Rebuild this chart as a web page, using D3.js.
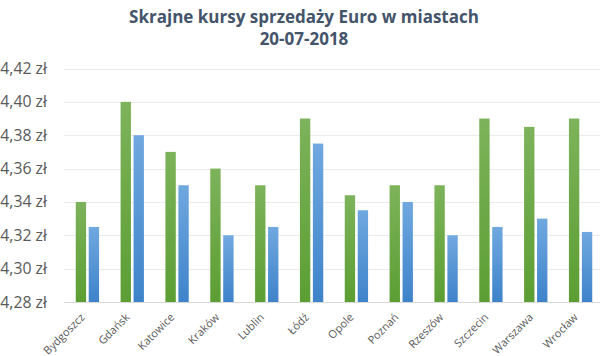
<!DOCTYPE html>
<html><head><meta charset="utf-8">
<script src="https://cdn.jsdelivr.net/npm/d3@7"></script>
<style>body{margin:0;background:#fff;overflow:hidden}svg{display:block}</style>
</head><body><svg id="c" width="600" height="356"></svg>
<script>
const cities = ["Bydgoszcz","Gdańsk","Katowice","Kraków","Lublin","Łódź","Opole","Poznań","Rzeszów","Szczecin","Warszawa","Wrocław"];
const maxRate = [4.34,4.40,4.37,4.36,4.35,4.39,4.344,4.35,4.35,4.39,4.385,4.39];
const minRate = [4.325,4.38,4.35,4.32,4.325,4.375,4.335,4.34,4.32,4.325,4.33,4.322];
const yTicks = [4.28,4.30,4.32,4.34,4.36,4.38,4.40,4.42];
const titleLines = ["Skrajne kursy sprzedaży Euro w miastach","20-07-2018"];

const svg = d3.select("#c");
const defs = svg.append("defs");
function grad(id,top,bot){const g=defs.append("linearGradient").attr("id",id).attr("x1",0).attr("y1",0).attr("x2",0).attr("y2",1);
 g.append("stop").attr("offset","0%").attr("stop-color",top);g.append("stop").attr("offset","100%").attr("stop-color",bot);}
grad("gG","#7db35b","#5c9e33");
grad("gB","#70a8df","#3e83ca");

const x = d3.scaleBand().domain(cities).range([65,603]);
const y = d3.scaleLinear().domain([4.28,4.42]).range([302,68.5]);
const xs = d3.scaleBand().domain(["max","min"]).range([x.bandwidth()*0.24, x.bandwidth()*0.76]).paddingInner(0.2);

const fmt = v => d3.format(".2f")(v).replace(".",",")+" zł";

svg.append("g").selectAll("line").data(yTicks.slice(1)).join("line")
 .attr("x1",64).attr("x2",600).attr("y1",d=>Math.round(y(d))+0.5).attr("y2",d=>Math.round(y(d))+0.5)
 .attr("stroke","#ebebeb").attr("stroke-width",1);

svg.append("g").selectAll("text").data(yTicks).join("text")
 .attr("x",47).attr("y",d=>y(d)+5.5).attr("text-anchor","end")
 .attr("font-family","Open Sans, sans-serif").attr("font-size",15.8).attr("fill","#595959")
 .text(fmt);

const g = svg.append("g").selectAll("g").data(cities).join("g").attr("transform",d=>`translate(${x(d)},0)`);
g.append("rect").attr("x",xs("max")).attr("width",xs.bandwidth())
 .attr("y",(d,i)=>y(maxRate[i])).attr("height",(d,i)=>y(4.28)-y(maxRate[i])).attr("fill","url(#gG)");
g.append("rect").attr("x",xs("min")).attr("width",xs.bandwidth())
 .attr("y",(d,i)=>y(minRate[i])).attr("height",(d,i)=>y(4.28)-y(minRate[i])).attr("fill","url(#gB)");

svg.append("line").attr("x1",64).attr("x2",600).attr("y1",302.5).attr("y2",302.5).attr("stroke","#d9d9d9");

svg.append("g").selectAll("text").data(cities).join("text")
 .attr("transform",d=>`translate(${x(d)+x.bandwidth()/2-2},318) rotate(-45)`)
 .attr("text-anchor","end").attr("font-family","Open Sans, sans-serif").attr("font-size",11).attr("fill","#595959")
 .text(d=>d);

svg.append("g").selectAll("text").data(titleLines).join("text")
 .attr("x",304).attr("y",(d,i)=>23+i*22).attr("text-anchor","middle")
 .attr("font-family","Open Sans, sans-serif").attr("font-weight","bold").attr("font-size",17).attr("fill","#44546a")
 .text(d=>d);
</script></body></html>
